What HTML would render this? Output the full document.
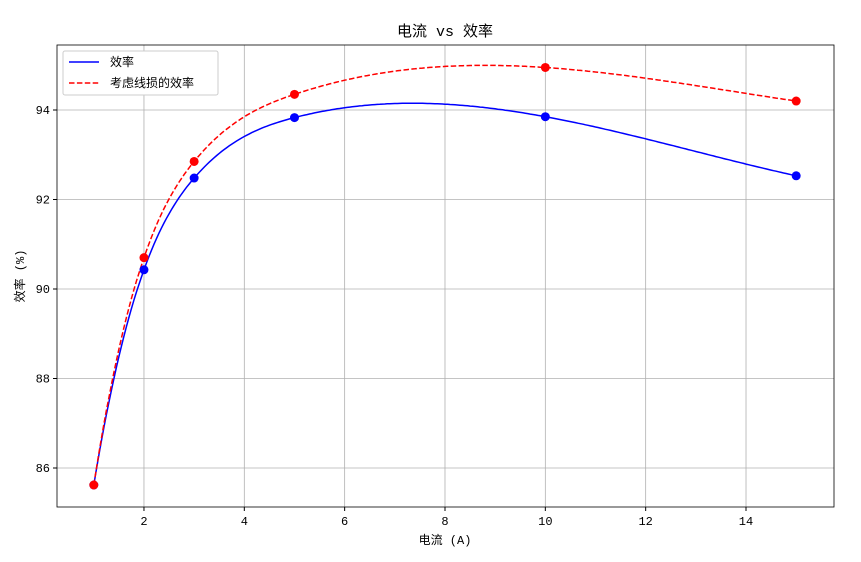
<!DOCTYPE html>
<html><head><meta charset="utf-8"><style>
body{margin:0;background:#fff}
svg text{font-family:"Liberation Mono","Noto Sans CJK SC",monospace;fill:#000}
</style></head><body>
<svg id="s" width="861" height="557" xmlns="http://www.w3.org/2000/svg">
<rect width="861" height="557" fill="#fff"/>
<g id="grid" stroke="#b0b0b0" stroke-width="0.8"></g>
<g id="ticks" font-size="12"></g>
<path id="pb" fill="none" stroke="#0000ff" stroke-width="1.5"/>
<path id="pr" fill="none" stroke="#ff0000" stroke-width="1.5" stroke-dasharray="5.5,2.4"/>
<g id="dots"></g>
<rect x="57" y="45" width="777" height="462" fill="none" stroke="#000" stroke-width="0.8"/>
<text x="445" y="36" font-size="15" text-anchor="middle">电流 vs 效率</text>
<text x="445" y="544" font-size="12" text-anchor="middle">电流 (A)</text>
<text transform="translate(24,276) rotate(-90)" font-size="12" text-anchor="middle">效率 (%)</text>
<rect x="63" y="51" width="155" height="44" fill="#fff" stroke="#ccc" rx="2"/>
<line x1="69" y1="62" x2="99" y2="62" stroke="#0000ff" stroke-width="1.5"/>
<line x1="69" y1="83" x2="99" y2="83" stroke="#ff0000" stroke-width="1.5" stroke-dasharray="5.5,2.4"/>
<text x="110" y="66" font-size="12">效率</text>
<text x="110" y="87" font-size="12">考虑线损的效率</text>
</svg>
<script>
const X=v=>93.8+(v-1)*50.17, Y=v=>110+(94-v)*44.75;
const ns="http://www.w3.org/2000/svg";
function el(p,t,a,txt){const e=document.createElementNS(ns,t);for(const k in a)e.setAttribute(k,a[k]);if(txt!==undefined)e.textContent=txt;document.getElementById(p).appendChild(e);}
for(let v=2;v<=14;v+=2){el("grid","line",{x1:X(v),x2:X(v),y1:45,y2:507});el("ticks","line",{x1:X(v),x2:X(v),y1:507,y2:511,stroke:"#000"});el("ticks","text",{x:X(v),y:525,"text-anchor":"middle"},v);}
for(let v=86;v<=94;v+=2){el("grid","line",{x1:57,x2:834,y1:Y(v),y2:Y(v)});el("ticks","line",{x1:53,x2:57,y1:Y(v),y2:Y(v),stroke:"#000"});el("ticks","text",{x:50,y:Y(v)+4,"text-anchor":"end"},v);}
function spline(xs,ys){const n=xs.length,h=[];for(let i=0;i<n-1;i++)h[i]=xs[i+1]-xs[i];
const A=[],r=[];for(let i=0;i<n;i++){A.push(Array(n).fill(0));r.push(0);}
A[0][0]=h[1];A[0][1]=-(h[0]+h[1]);A[0][2]=h[0];
for(let i=1;i<n-1;i++){A[i][i-1]=h[i-1];A[i][i]=2*(h[i-1]+h[i]);A[i][i+1]=h[i];r[i]=6*((ys[i+1]-ys[i])/h[i]-(ys[i]-ys[i-1])/h[i-1]);}
const k=n-1;A[k][k-2]=h[k-1];A[k][k-1]=-(h[k-2]+h[k-1]);A[k][k]=h[k-2];
for(let c=0;c<n;c++){let p=c;for(let i=c+1;i<n;i++)if(Math.abs(A[i][c])>Math.abs(A[p][c]))p=i;[A[c],A[p]]=[A[p],A[c]];[r[c],r[p]]=[r[p],r[c]];
for(let i=c+1;i<n;i++){const f=A[i][c]/A[c][c];for(let j=c;j<n;j++)A[i][j]-=f*A[c][j];r[i]-=f*r[c];}}
const M=Array(n).fill(0);for(let i=n-1;i>=0;i--){let s=r[i];for(let j=i+1;j<n;j++)s-=A[i][j]*M[j];M[i]=s/A[i][i];}
return x=>{let i=0;while(i<n-2&&x>xs[i+1])i++;const hh=h[i],a=xs[i+1]-x,b=x-xs[i];
return M[i]*a*a*a/(6*hh)+M[i+1]*b*b*b/(6*hh)+(ys[i]/hh-M[i]*hh/6)*a+(ys[i+1]/hh-M[i+1]*hh/6)*b;};}
const xs=[1,2,3,5,10,15];
const B=[85.62,90.43,92.48,93.83,93.85,92.53],R=[85.62,90.7,92.85,94.35,94.95,94.2];
function draw(id,ys,col){const f=spline(xs,ys);let p="";for(let x=1;x<=15.0001;x+=0.05)p+=(p?"L":"M")+X(x).toFixed(1)+","+Y(f(x)).toFixed(1);document.getElementById(id).setAttribute("d",p);
xs.forEach((x,i)=>el("dots","circle",{cx:X(x),cy:Y(ys[i]),r:4.5,fill:col}));}
draw("pb",B,"#0000ff");draw("pr",R,"#ff0000");
</script>
</body></html>
